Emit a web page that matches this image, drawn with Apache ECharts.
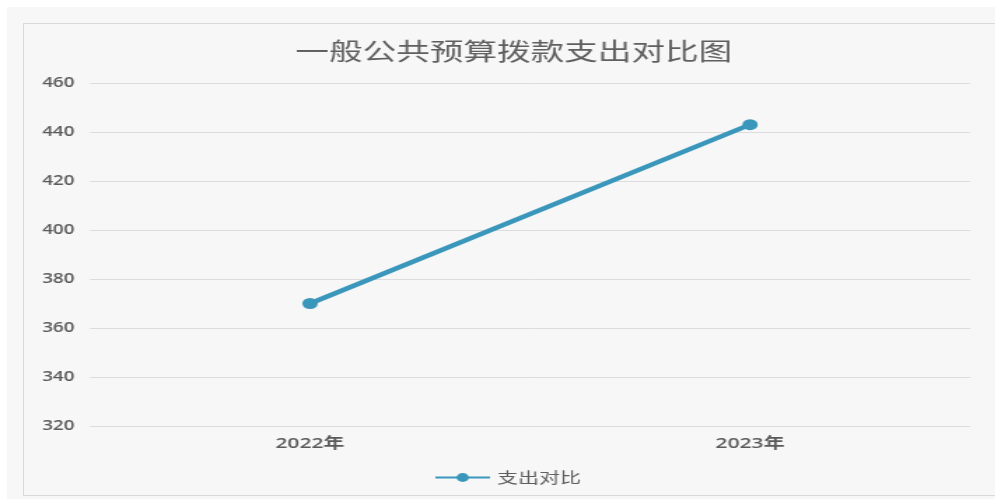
<!DOCTYPE html>
<html><head><meta charset="utf-8">
<script src="https://cdn.jsdelivr.net/npm/echarts@6/dist/echarts.min.js"></script>
<style>
html,body{margin:0;padding:0;background:#fff;overflow:hidden;}
#bg{position:absolute;left:7px;top:7px;width:988px;height:492px;background:#f7f7f7;}
#frame{position:absolute;left:23px;top:23px;width:1000px;height:473px;border:1px solid #d9d9d9;box-sizing:border-box;}
#c{position:absolute;left:0;top:0;width:711px;height:499px;transform:scaleX(1.4);transform-origin:0 0;}
</style></head>
<body><div id="bg"></div><div id="frame"></div><div id="c"></div>
<script>
var categories = ['2022年', '2023年'];
var values = [370, 443];
var seriesName = '支出对比';
var titleText = '一般公共预算拨款支出对比图';

var chart = echarts.init(document.getElementById('c'));
chart.setOption({
  backgroundColor: 'transparent',
  title: {
    text: titleText, left: 206, top: 34,
    textStyle: {fontFamily: 'Noto Sans CJK SC', fontSize: 24, fontWeight: 'normal', color: '#5f5f5f'}
  },
  legend: {
    top: 465, left: 305,
    itemWidth: 39, itemHeight: 11, itemGap: 10,
    textStyle: {fontFamily: 'Noto Sans CJK SC', fontSize: 15, color: '#5f5f5f'},
    data: [seriesName]
  },
  grid: {left: 64.3, right: 18.1, top: 83, bottom: 73, containLabel: false},
  xAxis: {
    type: 'category', data: categories, boundaryGap: true,
    axisLine: {show: false}, axisTick: {show: false},
    axisLabel: {fontFamily: 'Open Sans, Noto Sans CJK SC', fontSize: 15, fontWeight: 600, color: '#5a5a5a', margin: 10}
  },
  yAxis: {
    type: 'value', min: 320, max: 460, interval: 20,
    axisLine: {show: false}, axisTick: {show: false},
    axisLabel: {fontFamily: 'Open Sans', fontSize: 13.5, fontWeight: 600, color: '#5a5a5a', margin: 11},
    splitLine: {lineStyle: {color: '#dcdcdc', width: 1}}
  },
  series: [{
    name: seriesName, type: 'line', data: values,
    symbol: 'circle', symbolSize: 11,
    itemStyle: {color: '#3a97bb'},
    lineStyle: {color: '#3a97bb', width: 4.5}
  }]
});
</script></body></html>
